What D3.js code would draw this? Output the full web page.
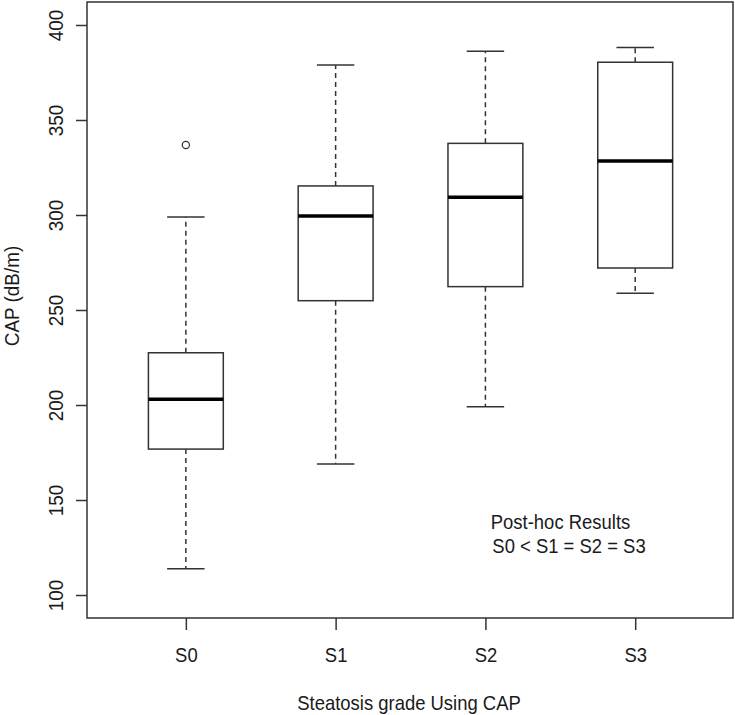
<!DOCTYPE html>
<html>
<head>
<meta charset="utf-8">
<script src="https://cdn.jsdelivr.net/npm/d3@7"></script>
<style>
  html, body { margin: 0; padding: 0; background: #fff; }
  svg { display: block; }
  text { font-family: "Liberation Sans", Arial, sans-serif; fill: #1a1a1a; }
</style>
</head>
<body>
<div id="chart"></div>
<script>
// ---- data ----
const categories    = ["S0", "S1", "S2", "S3"];
const lowerWhisker  = [113.8, 169.0, 199.1, 258.8];
const q1            = [176.8, 254.9, 262.3, 272.1];
const median        = [203.0, 299.5, 309.3, 328.4];
const q3            = [227.5, 315.3, 337.7, 380.4];
const upperWhisker  = [298.9, 379.0, 386.2, 388.1];
const outlierCats   = ["S0"];
const outlierValues = [336.8];
const yTicks        = [100, 150, 200, 250, 300, 350, 400];
const xTitle = "Steatosis grade Using CAP";
const yTitle = "CAP (dB/m)";
const noteLines  = ["Post-hoc Results", " S0 < S1 = S2 = S3"];
const noteX      = [3.036, 3.012];
const noteY      = [134.6, 121.9];

// ---- layout ----
const W = 735, H = 715;
const plotLeft = 87, plotRight = 733, plotTop = 2, plotBottom = 618;
const lineColor = "#333";
const fontSize = 20.5;
const squeeze = "scale(0.9,1)";   // reference glyphs are slightly condensed

const svg = d3.select("#chart").append("svg")
  .attr("width", W).attr("height", H);

const x = d3.scaleLinear().domain([0.34, 4.653]).range([plotLeft, plotRight]);
const y = d3.scaleLinear().domain([87.9, 412.1]).range([plotBottom, plotTop]);

const boxHalf = (x(1.25) - x(1));      // half box width (0.5 unit box)
const capHalf = boxHalf / 2;

const data = categories.map((c, i) => ({
  cat: c, pos: i + 1,
  lo: lowerWhisker[i], q1: q1[i], med: median[i], q3: q3[i], hi: upperWhisker[i]
}));

// plot frame
svg.append("rect")
  .attr("x", plotLeft).attr("y", plotTop)
  .attr("width", plotRight - plotLeft).attr("height", plotBottom - plotTop)
  .attr("fill", "none").attr("stroke", lineColor).attr("stroke-width", 1.5);

// ---- axes ----
const yAxis = d3.axisLeft(y).tickValues(yTicks).tickSize(11).tickFormat(d3.format("d"));
const gy = svg.append("g").attr("transform", `translate(${plotLeft},0)`).call(yAxis);
gy.select(".domain").remove();
gy.selectAll(".tick line").attr("stroke", lineColor).attr("stroke-width", 1.5);
gy.selectAll(".tick text")
  .attr("x", null).attr("dy", null)
  .attr("transform", `translate(-24,0) rotate(-90) ${squeeze}`)
  .attr("text-anchor", "middle")
  .style("font-size", "21px")
  .style("font-family", "'Liberation Sans', Arial, sans-serif")
  .attr("fill", "#1a1a1a");

const xAxis = d3.axisBottom(x).tickValues([1, 2, 3, 4]).tickSize(12)
  .tickFormat(d => categories[d - 1]);
const gx = svg.append("g").attr("transform", `translate(0,${plotBottom})`).call(xAxis);
gx.select(".domain").remove();
gx.selectAll(".tick line").attr("stroke", lineColor).attr("stroke-width", 1.5);
gx.selectAll(".tick text")
  .attr("y", null).attr("dy", null)
  .attr("transform", `translate(0,44) ${squeeze}`)
  .style("font-size", fontSize + "px")
  .style("font-family", "'Liberation Sans', Arial, sans-serif")
  .attr("fill", "#1a1a1a");

// axis titles
svg.append("text")
  .attr("transform", `translate(${(plotLeft + plotRight) / 2 - 1},710) ${squeeze}`)
  .attr("text-anchor", "middle")
  .style("font-size", fontSize + "px")
  .text(xTitle);

svg.append("text")
  .attr("transform", `translate(19,296) rotate(-90) ${squeeze}`)
  .attr("text-anchor", "middle")
  .style("font-size", "21px")
  .text(yTitle);

// ---- boxes ----
const g = svg.append("g");
const b = g.selectAll("g.box").data(data).join("g").attr("class", "box");

// whiskers (dashed)
b.append("line")
  .attr("x1", d => x(d.pos)).attr("x2", d => x(d.pos))
  .attr("y1", d => y(d.q3)).attr("y2", d => y(d.hi))
  .attr("stroke", lineColor).attr("stroke-width", 1.5).attr("stroke-dasharray", "5,4");
b.append("line")
  .attr("x1", d => x(d.pos)).attr("x2", d => x(d.pos))
  .attr("y1", d => y(d.q1)).attr("y2", d => y(d.lo))
  .attr("stroke", lineColor).attr("stroke-width", 1.5).attr("stroke-dasharray", "5,4");
// caps
b.append("line")
  .attr("x1", d => x(d.pos) - capHalf).attr("x2", d => x(d.pos) + capHalf)
  .attr("y1", d => y(d.hi)).attr("y2", d => y(d.hi))
  .attr("stroke", lineColor).attr("stroke-width", 1.5);
b.append("line")
  .attr("x1", d => x(d.pos) - capHalf).attr("x2", d => x(d.pos) + capHalf)
  .attr("y1", d => y(d.lo)).attr("y2", d => y(d.lo))
  .attr("stroke", lineColor).attr("stroke-width", 1.5);
// box
b.append("rect")
  .attr("x", d => x(d.pos) - boxHalf).attr("width", 2 * boxHalf)
  .attr("y", d => y(d.q3)).attr("height", d => y(d.q1) - y(d.q3))
  .attr("fill", "#fff").attr("stroke", lineColor).attr("stroke-width", 1.5);
// median
b.append("line")
  .attr("x1", d => x(d.pos) - boxHalf).attr("x2", d => x(d.pos) + boxHalf)
  .attr("y1", d => y(d.med)).attr("y2", d => y(d.med))
  .attr("stroke", "#000").attr("stroke-width", 3.5);

// outliers
g.selectAll("circle.out").data(outlierValues).join("circle")
  .attr("class", "out")
  .attr("cx", (d, i) => x(categories.indexOf(outlierCats[i]) + 1))
  .attr("cy", d => y(d))
  .attr("r", 3.6)
  .attr("fill", "none").attr("stroke", lineColor).attr("stroke-width", 1.2);

// annotation
svg.selectAll("text.note").data(noteLines).join("text")
  .attr("class", "note")
  .attr("transform", (d, i) => `translate(${x(noteX[i])},${y(noteY[i])}) ${squeeze}`)
  .attr("xml:space", "preserve")
  .style("white-space", "pre")
  .style("font-size", fontSize + "px")
  .text(d => d);
</script>
</body>
</html>
